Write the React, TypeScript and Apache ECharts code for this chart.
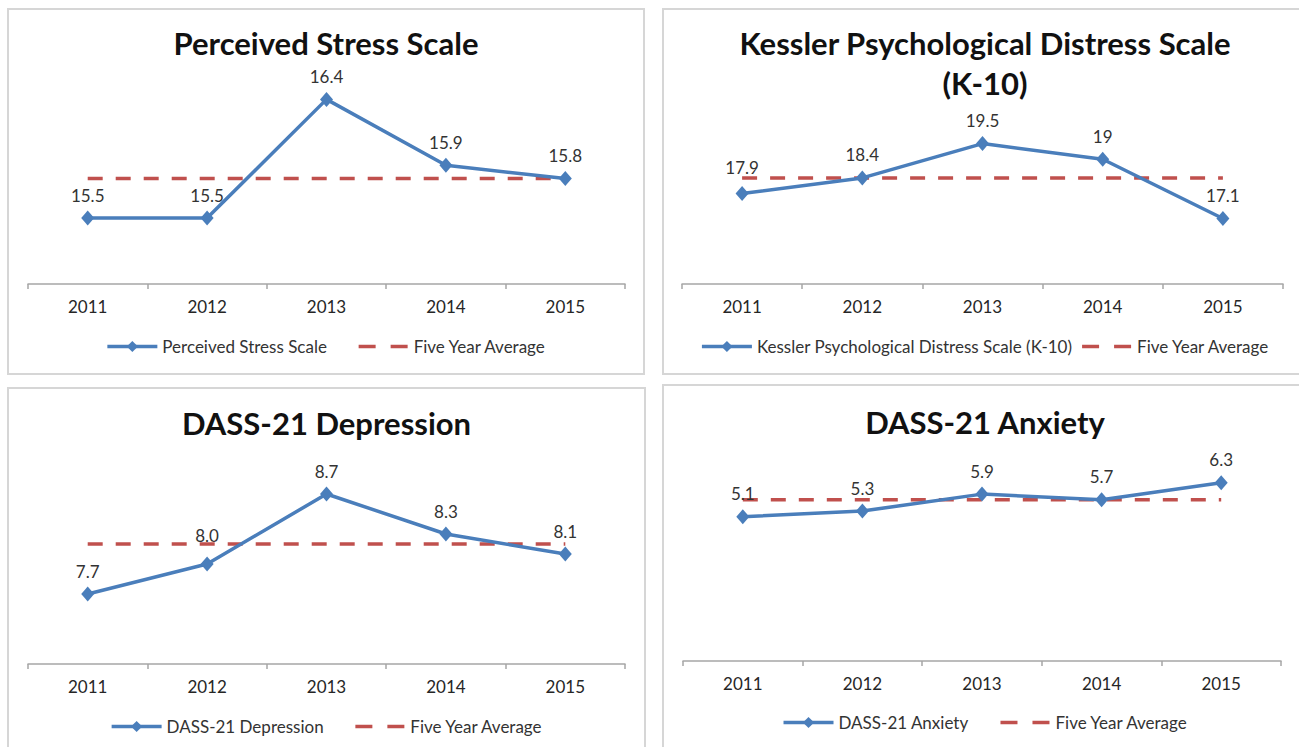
import { useEffect, useRef } from "react";
import * as echarts from "echarts";

// ---- Data ----
const years = ["2011", "2012", "2013", "2014", "2015"];

const pssValues = [15.5, 15.5, 16.4, 15.9, 15.8];
const pssAverage = [15.8, 15.8, 15.8, 15.8, 15.8];

const k10Values = [17.9, 18.4, 19.5, 19, 17.1];
const k10Average = [18.4, 18.4, 18.4, 18.4, 18.4];

const depValues = [7.7, 8.0, 8.7, 8.3, 8.1];
const depAverage = [8.2, 8.2, 8.2, 8.2, 8.2];

const anxValues = [5.1, 5.3, 5.9, 5.7, 6.3];
const anxAverage = [5.7, 5.7, 5.7, 5.7, 5.7];

const labelsPss = ["15.5", "15.5", "16.4", "15.9", "15.8"];
const labelsK10 = ["17.9", "18.4", "19.5", "19", "17.1"];
const labelsDep = ["7.7", "8.0", "8.7", "8.3", "8.1"];
const labelsAnx = ["5.1", "5.3", "5.9", "5.7", "6.3"];

const AVG_NAME = "Five Year Average";

const FONT = "Lato, 'Open Sans', sans-serif";
const BLUE = "#4A7EBB";
const RED = "#C0504D";

type PanelCfg = {
  box: { x: number; y: number; w: number; h: number };
  title: string;
  titleCenterY: number;
  seriesName: string;
  values: number[];
  labels: string[];
  labelLift: number[];
  average: number[];
  yMin: number;
  yMax: number;
  gridLeft: number;
  gridRight: number;
  gridTop: number;
  axisY: number;
  legendTop: number;
  legendGap: number;
};

const panels: PanelCfg[] = [
  {
    box: { x: 7, y: 8, w: 638, h: 367 },
    title: "Perceived Stress Scale",
    titleCenterY: 43,
    seriesName: "Perceived Stress Scale",
    values: pssValues,
    labels: labelsPss,
    labelLift: [0, 0, 0, 0, 0],
    average: pssAverage,
    yMin: 15,
    yMax: 16.6,
    gridLeft: 28,
    gridRight: 625,
    gridTop: 73,
    axisY: 284,
    legendTop: 338,
    legendGap: 30,
  },
  {
    box: { x: 662, y: 8, w: 646, h: 367 },
    title: "Kessler Psychological Distress Scale\n(K-10)",
    titleCenterY: 63,
    seriesName: "Kessler Psychological Distress Scale (K-10)",
    values: k10Values,
    labels: labelsK10,
    labelLift: [3, 0, 0, 0, 0],
    average: k10Average,
    yMin: 15,
    yMax: 20,
    gridLeft: 682,
    gridRight: 1283,
    gridTop: 128,
    axisY: 284,
    legendTop: 338,
    legendGap: 8,
  },
  {
    box: { x: 7, y: 387, w: 639, h: 362 },
    title: "DASS-21 Depression",
    titleCenterY: 423,
    seriesName: "DASS-21 Depression",
    values: depValues,
    labels: labelsDep,
    labelLift: [0, 6, 0, 0, 0],
    average: depAverage,
    yMin: 7,
    yMax: 9,
    gridLeft: 28,
    gridRight: 625,
    gridTop: 464,
    axisY: 664,
    legendTop: 718,
    legendGap: 30,
  },
  {
    box: { x: 662, y: 384, w: 646, h: 365 },
    title: "DASS-21 Anxiety",
    titleCenterY: 422,
    seriesName: "DASS-21 Anxiety",
    values: anxValues,
    labels: labelsAnx,
    labelLift: [0, 0, 0, 0, 0],
    average: anxAverage,
    yMin: 0,
    yMax: 7,
    gridLeft: 683,
    gridRight: 1281,
    gridTop: 463,
    axisY: 661,
    legendTop: 714,
    legendGap: 30,
  },
];

function buildOption(p: PanelCfg): echarts.EChartsOption {
  const { box } = p;
  return {
    animation: false,
    backgroundColor: "transparent",
    graphic: [
      {
        type: "text",
        x: box.w / 2,
        y: p.titleCenterY - box.y,
        silent: true,
        style: {
          text: p.title,
          fill: "#111111",
          fontFamily: FONT,
          fontSize: 31,
          fontWeight: "bold",
          lineHeight: 40,
          textAlign: "center",
          textVerticalAlign: "middle",
        },
      },
    ],
    legend: {
      top: p.legendTop - box.y,
      left: "center",
      padding: 0,
      itemGap: p.legendGap,
      itemWidth: 50,
      itemHeight: 14,
      selectedMode: false,
      data: [
        { name: p.seriesName, lineStyle: { width: 3.5 } },
        { name: AVG_NAME, itemStyle: { opacity: 0 }, lineStyle: { width: 3.5, type: [17, 15] } },
      ],
      textStyle: { fontFamily: FONT, fontSize: 17, color: "#333333" },
    },
    grid: {
      left: p.gridLeft - box.x,
      top: p.gridTop - box.y,
      width: p.gridRight - p.gridLeft,
      height: p.axisY - p.gridTop,
      containLabel: false,
    },
    xAxis: {
      type: "category",
      data: years,
      boundaryGap: true,
      axisLine: { show: true, lineStyle: { color: "#a6a6a6", width: 1.5 } },
      axisTick: { show: true, length: 5, lineStyle: { color: "#a6a6a6", width: 1.5 } },
      axisLabel: { margin: 14, fontFamily: FONT, fontSize: 17, color: "#262626" },
    },
    yAxis: {
      type: "value",
      show: false,
      min: p.yMin,
      max: p.yMax,
      splitLine: { show: false },
    },
    series: [
      {
        name: p.seriesName,
        type: "line",
        data: p.values.map((v, i) => ({
          value: v,
          label: { distance: 7 + p.labelLift[i] },
        })),
        z: 3,
        symbol: "diamond",
        symbolSize: [13, 15],
        lineStyle: { color: BLUE, width: 3.5 },
        itemStyle: { color: BLUE },
        label: {
          show: true,
          position: "top",
          distance: 7,
          fontFamily: FONT,
          fontSize: 17,
          color: "#333333",
          formatter: (params: any) => p.labels[params.dataIndex],
        },
      },
      {
        name: AVG_NAME,
        type: "line",
        data: p.average,
        z: 2,
        symbol: "none",
        lineStyle: { color: RED, width: 3.5, type: [15, 13] },
        itemStyle: { color: RED },
      },
    ],
  };
}

function Panel({ cfg }: { cfg: PanelCfg }) {
  const ref = useRef<HTMLDivElement | null>(null);
  useEffect(() => {
    if (!ref.current) return;
    const chart = echarts.init(ref.current, undefined, { renderer: "svg" });
    chart.setOption(buildOption(cfg));
    return () => chart.dispose();
  }, [cfg]);
  const { box } = cfg;
  return (
    <div
      style={{
        position: "absolute",
        left: box.x,
        top: box.y,
        width: box.w,
        height: box.h,
        boxSizing: "border-box",
        border: "2px solid #d6d6d6",
        background: "#fff",
      }}
    >
      <div
        ref={ref}
        style={{ position: "absolute", left: -2, top: -2, width: box.w, height: box.h }}
      />
    </div>
  );
}

export default function App() {
  return (
    <div
      style={{
        position: "fixed",
        left: 0,
        top: 0,
        width: 1299,
        height: 747,
        overflow: "hidden",
        background: "#ffffff",
      }}
    >
      {panels.map((p, i) => (
        <Panel key={i} cfg={p} />
      ))}
    </div>
  );
}
